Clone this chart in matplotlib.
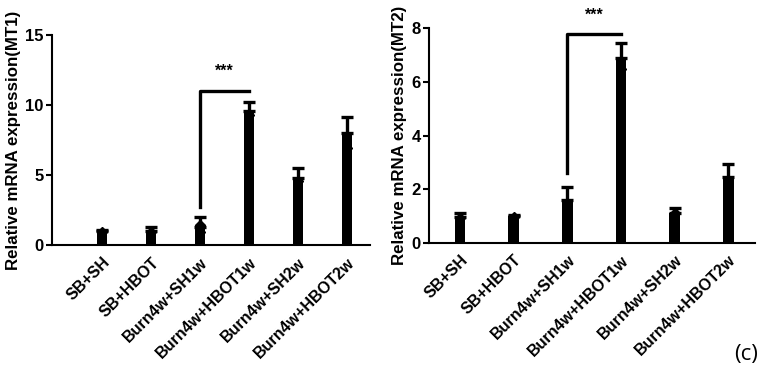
import matplotlib.pyplot as plt
import numpy as np

plt.rcParams['font.family'] = 'Liberation Sans'

groups = ["SB+SH", "SB+HBOT", "Burn4w+SH1w", "Burn4w+HBOT1w", "Burn4w+SH2w", "Burn4w+HBOT2w"]

# MT1 panel
mt1_mean = [1.0, 1.0, 1.3, 9.6, 4.8, 8.0]
mt1_err = [0.1, 0.3, 0.7, 0.6, 0.7, 1.15]
mt1_pts = [[0.95], [0.9], [0.95, 1.4], [9.3], [4.6], [6.9]]

# MT2 panel
mt2_mean = [0.95, 1.0, 1.6, 6.9, 1.1, 2.45]
mt2_err = [0.15, 0.05, 0.5, 0.55, 0.2, 0.5]
mt2_pts = [[0.93], [0.95], [1.1], [6.5], [1.1], [2.0]]


def draw_panel(ax, means, errs, pts, ylim, yticks, xlim, ylabel, sig, width):
    x = np.arange(len(means))
    ax.bar(x, means, width=width, color='black', zorder=2)
    ax.errorbar(x, means, yerr=[np.zeros(len(errs)), errs], fmt='none',
                ecolor='black', elinewidth=2.4, capsize=4.5, capthick=2.4, zorder=3)
    for i, p in enumerate(pts):
        ax.plot([i] * len(p), p, marker='D', ms=5.5, color='black', ls='none', zorder=4)

    # significance bracket
    i0, i1, ylow, yhigh, ytxt = sig
    ax.plot([i0, i0, i1], [ylow, yhigh, yhigh], color='black', lw=2.4, zorder=3)
    ax.text((i0 + i1) / 2, ytxt, "***", ha='center', va='center', fontsize=11.5,
            fontweight='bold', family='Liberation Sans')

    ax.set_xlim(*xlim)
    ax.set_ylim(*ylim)
    ax.set_yticks(yticks)
    ax.set_xticks(x)
    ax.set_xticklabels(groups, rotation=45, ha='right', rotation_mode='anchor',
                       fontsize=11.5, fontweight='bold', family='Liberation Sans')
    ax.tick_params(axis='x', length=0, pad=7)
    ax.tick_params(axis='y', length=4, width=1.5, labelsize=12, pad=2)
    for t in ax.get_yticklabels():
        t.set_fontweight('bold')
        t.set_family('Liberation Sans')
    ax.set_ylabel(ylabel, fontsize=12.2, fontweight='bold', labelpad=3,
                  family='Liberation Sans')
    ax.spines['top'].set_visible(False)
    ax.spines['right'].set_visible(False)
    ax.spines['left'].set_linewidth(1.5)
    ax.spines['bottom'].set_linewidth(1.5)


fig = plt.figure(figsize=(7.68, 3.73), dpi=100)

ax1 = fig.add_axes([0.0677, 0.343, 0.4143, 0.563])
draw_panel(ax1, mt1_mean, mt1_err, mt1_pts, (0, 15), [0, 5, 10, 15], (-1.02, 5.47),
           "Relative mRNA expression(MT1)", (2, 3, 2.7, 11.0, 12.4), 0.21)

ax2 = fig.add_axes([0.5586, 0.349, 0.4244, 0.5746])
draw_panel(ax2, mt2_mean, mt2_err, mt2_pts, (0, 8), [0, 2, 4, 6, 8], (-0.58, 5.5),
           "Relative mRNA expression(MT2)", (2, 3, 2.6, 7.8, 8.5), 0.2)

fig.text(0.972, 0.05, "(c)", ha='center', va='center', fontsize=16,
         family='Open Sans')

fig.savefig("out.png", dpi=100)
